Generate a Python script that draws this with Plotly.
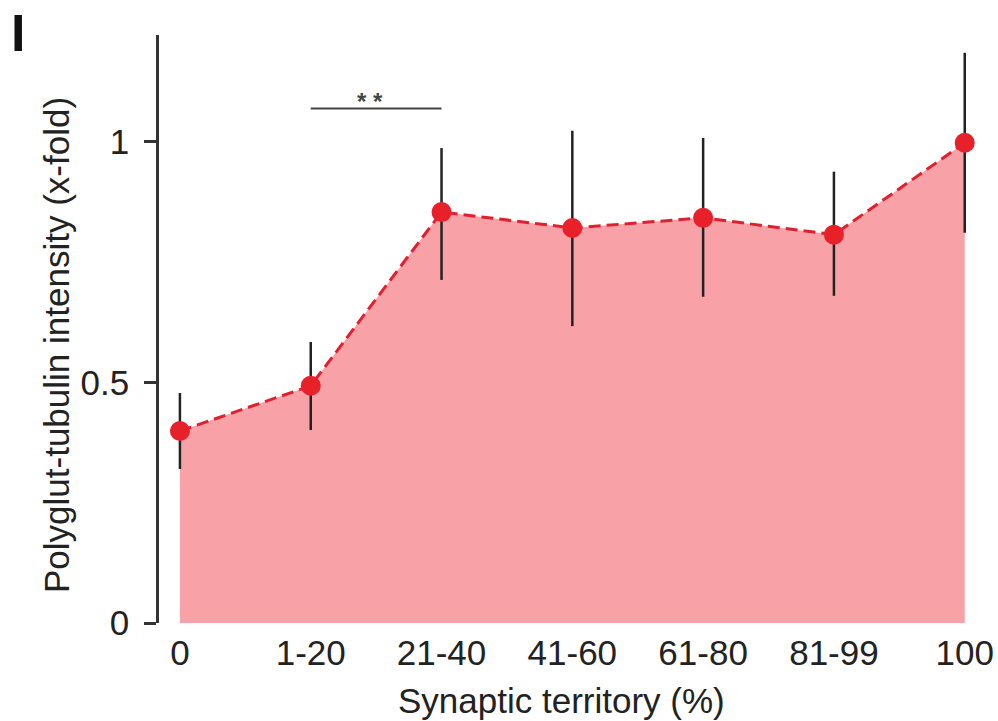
import plotly.graph_objects as go

categories = ["0", "1-20", "21-40", "41-60", "61-80", "81-99", "100"]
means = [0.399, 0.493, 0.854, 0.821, 0.842, 0.807, 0.998]
err_upper = [0.478, 0.584, 0.987, 1.023, 1.008, 0.938, 1.185]
err_lower = [0.320, 0.401, 0.713, 0.617, 0.678, 0.680, 0.811]
y_ticks = [0, 0.5, 1]
y_tick_labels = ["0", "0.5", "1"]
sig_pair = [1, 2]
sig_level = 1.069
sig_text = "* *"

xs = list(range(len(categories)))
err_plus = [u - m for u, m in zip(err_upper, means)]
err_minus = [m - l for m, l in zip(means, err_lower)]

FONT = "Liberation Sans, Arial, sans-serif"
fig = go.Figure()

fig.add_trace(go.Scatter(
    x=xs, y=means, mode="lines", fill="tozeroy",
    fillcolor="#F8A2A7", line=dict(width=0, color="rgba(0,0,0,0)"),
    hoverinfo="skip", showlegend=False))

fig.add_trace(go.Scatter(
    x=xs, y=means, mode="lines+markers",
    line=dict(color="#E0202E", width=3, dash="12px,6px"),
    marker=dict(color="#E8202A", size=20),
    error_y=dict(type="data", symmetric=False, array=err_plus,
                 arrayminus=err_minus, color="#222222", thickness=2.5, width=0),
    showlegend=False))

# significance bar
fig.add_trace(go.Scatter(
    x=sig_pair, y=[sig_level, sig_level], mode="lines",
    line=dict(color="#444444", width=2), hoverinfo="skip", showlegend=False))
fig.add_annotation(x=(sig_pair[0] + sig_pair[1]) / 2 - 0.045, y=sig_level,
                   text="<b>" + sig_text + "</b>", showarrow=False, yanchor="middle", yshift=7,
                   font=dict(family=FONT, size=24, color="#444444"))

fig.update_layout(
    width=998, height=721,
    margin=dict(l=159, r=13, t=35, b=98, autoexpand=False),
    paper_bgcolor="white", plot_bgcolor="white",
    font=dict(family=FONT, color="#222222"),
)

fig.update_xaxes(
    range=[-0.16, 6.155], tickvals=xs, ticktext=categories,
    showline=False, showgrid=False, zeroline=False, ticks="",
    tickfont=dict(size=35, family=FONT, color="#222222"),
    ticklabelstandoff=6, automargin=False,
)
fig.update_yaxes(
    range=[0, 1.222], tickvals=y_ticks, ticktext=y_tick_labels,
    showline=True, linecolor="#333333", linewidth=2.5,
    ticks="outside", ticklen=12, tickwidth=2.5, tickcolor="#333333",
    showgrid=False, zeroline=False,
    tickfont=dict(size=35, family=FONT, color="#222222"),
    ticklabelstandoff=8, automargin=False,
)

fig.add_annotation(xref="paper", yref="paper", x=(561 - 159) / 826, y=-(700 - 623) / 588,
                   text="Synaptic territory (%)", showarrow=False,
                   xanchor="center", yanchor="middle",
                   font=dict(size=35, family=FONT, color="#222222"))
fig.add_annotation(xref="paper", yref="paper", x=(56 - 159) / 826, y=(623 - 345) / 588,
                   text="Polyglut-tubulin intensity (x-fold)", showarrow=False,
                   textangle=-90, xanchor="center", yanchor="middle",
                   font=dict(size=35, family=FONT, color="#222222"))
fig.add_annotation(xref="paper", yref="paper", x=(18 - 159) / 826, y=(623 - 33) / 588,
                   text="<b>I</b>", showarrow=False,
                   xanchor="center", yanchor="middle",
                   font=dict(size=52, family=FONT, color="#111111"))

fig.write_html("out.html", config={"displayModeBar": False},
               post_script="document.body.style.margin='0px';")
